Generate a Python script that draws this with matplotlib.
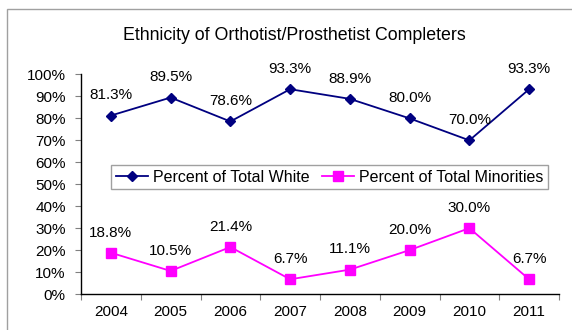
import matplotlib
matplotlib.use("Agg")
import matplotlib.pyplot as plt
from matplotlib.patches import Rectangle
from matplotlib.ticker import FixedLocator, FuncFormatter

plt.rcParams['font.family'] = ['Liberation Sans', 'DejaVu Sans']

years = ["2004", "2005", "2006", "2007", "2008", "2009", "2010", "2011"]
white = [81.3, 89.5, 78.6, 93.3, 88.9, 80.0, 70.0, 93.3]
minorities = [18.8, 10.5, 21.4, 6.7, 11.1, 20.0, 30.0, 6.7]
white_label = "Percent of Total White"
minor_label = "Percent of Total Minorities"
title = "Ethnicity of Orthotist/Prosthetist Completers"

W, H = 572, 330
fig = plt.figure(figsize=(W / 100, H / 100), dpi=100)
fig.patch.set_facecolor('white')

# outer chart border (top and left visible)
fig.patches.append(Rectangle((7 / W, -0.1), 1.2, (H - 9) / H + 0.1,
                             transform=fig.transFigure, fill=False,
                             edgecolor='#a0a0a0', linewidth=1.0))

ax = fig.add_axes([81 / W, (H - 294) / H, (559 - 81) / W, (294 - 74.5) / H])
x = list(range(len(years)))

ax.plot(x, white, color='#000080', marker='D', markersize=5.5, linewidth=1.3,
        label=white_label)
ax.plot(x, minorities, color='#FF00FF', marker='s', markersize=7, linewidth=1.3,
        label=minor_label)

fs = 11
for xi, v in zip(x, white):
    ax.annotate(f"{v:.1f}%", (xi, v), xytext=(0, 14.5), textcoords='offset points',
                ha='center', va='center', fontsize=fs, color='black')
for xi, v in zip(x, minorities):
    ax.annotate(f"{v:.1f}%", (xi, v), xytext=(0, 14.5), textcoords='offset points',
                ha='center', va='center', fontsize=fs, color='black')

ax.set_xlim(-0.5, len(years) - 0.5)
ax.set_ylim(0, 100)

ax.xaxis.set_major_locator(FixedLocator([i - 0.5 for i in range(len(years) + 1)]))
ax.xaxis.set_major_formatter(FuncFormatter(lambda v, p: ""))
ax.xaxis.set_minor_locator(FixedLocator(x))
ax.set_xticklabels(years, minor=True)
ax.tick_params(axis='x', which='major', direction='out', length=4, width=0.8, color='#808080')
ax.tick_params(axis='x', which='minor', length=0, pad=8, labelsize=fs)

ax.set_yticks(range(0, 101, 10))
ax.yaxis.set_major_formatter(FuncFormatter(lambda v, p: f"{int(v)}%"))
ax.tick_params(axis='y', direction='out', length=4, width=0.8, color='#808080',
               labelsize=fs, pad=7)

for s in ['top', 'right']:
    ax.spines[s].set_visible(False)
for s in ['left', 'bottom']:
    ax.spines[s].set_color('black')
    ax.spines[s].set_linewidth(1.0)

leg = ax.legend(loc='center', bbox_to_anchor=(329.5 / W, (H - 177) / H),
                bbox_transform=fig.transFigure, ncol=2, fontsize=11.5,
                frameon=True, fancybox=False, edgecolor='#a0a0a0',
                handlelength=2.0, handletextpad=0.3, columnspacing=0.8,
                borderpad=0.3, framealpha=1)
leg.get_frame().set_linewidth(1.0)

fig.text(294.5 / W, (H - 36) / H, title, ha='center', va='center', fontsize=12.8)

fig.savefig("out.png", dpi=100)
